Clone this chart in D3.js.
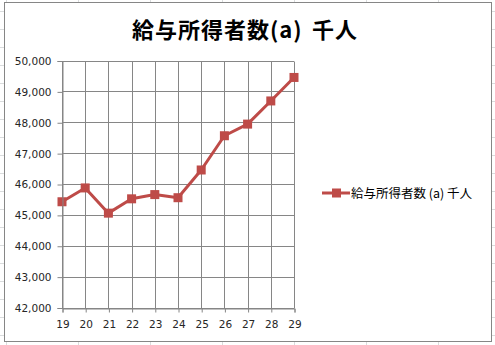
<!DOCTYPE html>
<html>
<head>
<meta charset="utf-8">
<script src="https://cdn.jsdelivr.net/npm/d3@7"></script>
<style>
  body { margin: 0; background: #fff; }
  svg { display: block; }
</style>
</head>
<body>
<div id="chart"></div>
<script>
// 給与所得者数 (a) 千人, 平成19-29年
var years = [19, 20, 21, 22, 23, 24, 25, 26, 27, 28, 29];
var workers = [45425, 45873, 45056, 45520, 45657, 45556, 46454, 47563, 47940, 48690, 49451];
var yTicks = [42000, 43000, 44000, 45000, 46000, 47000, 48000, 49000, 50000];
var titleParts = ["給与所得者数(a)", "千人"];
var seriesName = "給与所得者数 (a) 千人";

var width = 495, height = 345;
var lineColor = "#BE4B48",
    gridColor = "#868686",
    sheetColor = "#DADCDD",
    numFont = "'DejaVu Sans', Verdana, sans-serif",
    cjkFont = "'Noto Sans CJK JP', sans-serif";

var svg = d3.select("#chart").append("svg")
    .attr("width", width)
    .attr("height", height);

// spreadsheet cells behind the chart object
var rows = d3.range(-7, height, 18),
    cols = d3.range(6, width, 72);
svg.selectAll("line.row").data(rows).enter().append("line")
    .attr("x1", 0).attr("x2", width)
    .attr("y1", function(d) { return d + 0.5; })
    .attr("y2", function(d) { return d + 0.5; })
    .style("stroke", sheetColor);
svg.selectAll("line.col").data(cols).enter().append("line")
    .attr("y1", 0).attr("y2", height)
    .attr("x1", function(d) { return d + 0.5; })
    .attr("x2", function(d) { return d + 0.5; })
    .style("stroke", sheetColor);

// chart object
svg.append("rect")
    .attr("x", 4.5).attr("y", 2.5)
    .attr("width", 487).attr("height", 339)
    .style("fill", "#fff")
    .style("stroke", "#868686");

var title = svg.append("text")
    .attr("y", 38)
    .style("font-family", cjkFont)
    .style("font-weight", "bold")
    .style("font-size", "22px")
    .style("letter-spacing", "1px")
    .style("fill", "#000");
title.append("tspan").attr("x", 132).text(titleParts[0]);
title.append("tspan").attr("x", 312).text(titleParts[1]);

var X = d3.scaleLinear().domain([19, 29]).range([62, 294]),
    Y = d3.scaleLinear().domain([42000, 50000]).range([307.5, 60.5]);

var plot = svg.append("g");

// gridlines
plot.selectAll("line.hgrid").data(yTicks).enter().append("line")
    .attr("x1", X(19)).attr("x2", X(29))
    .attr("y1", function(d) { return Math.round(Y(d)) + 0.5; })
    .attr("y2", function(d) { return Math.round(Y(d)) + 0.5; })
    .style("stroke", gridColor);
plot.selectAll("line.vgrid").data(years).enter().append("line")
    .attr("y1", Math.round(Y(50000)) + 0.5).attr("y2", Math.round(Y(42000)) + 0.5)
    .attr("x1", function(d) { return Math.round(X(d)) + 0.5; })
    .attr("x2", function(d) { return Math.round(X(d)) + 0.5; })
    .style("stroke", gridColor);

// axes
var yAxis = d3.axisLeft(Y)
    .tickValues(yTicks)
    .tickFormat(d3.format(","))
    .tickSize(5)
    .tickPadding(6);
var xAxis = d3.axisBottom(X)
    .tickValues(years)
    .tickFormat(d3.format("d"))
    .tickSize(4)
    .tickPadding(8);

var gy = svg.append("g")
    .attr("transform", "translate(" + (Math.round(X(19)) + 0.5) + ",0.5)")
    .call(yAxis);
var gx = svg.append("g")
    .attr("transform", "translate(0.5," + (Math.round(Y(42000)) + 0.5) + ")")
    .call(xAxis);
[gx, gy].forEach(function(g) {
    g.select(".domain").style("stroke", gridColor);
    g.selectAll(".tick line").style("stroke", gridColor);
    g.selectAll("text")
        .style("font-family", numFont)
        .style("font-size", "10.5px")
        .style("fill", "#262626");
});

// series
var line = d3.line()
    .x(function(d, i) { return X(years[i]); })
    .y(function(d) { return Y(d); });
plot.append("path")
    .datum(workers)
    .attr("d", line)
    .style("fill", "none")
    .style("stroke", lineColor)
    .style("stroke-width", 3)
    .style("stroke-linejoin", "round");
plot.selectAll("rect.pt").data(workers).enter().append("rect")
    .attr("x", function(d, i) { return X(years[i]) - 4.5; })
    .attr("y", function(d) { return Y(d) - 4.5; })
    .attr("width", 9).attr("height", 9)
    .style("fill", lineColor);

// legend
var legend = svg.append("g").attr("transform", "translate(322,193)");
legend.append("line")
    .attr("x1", 0).attr("x2", 28)
    .style("stroke", lineColor)
    .style("stroke-width", 3);
legend.append("rect")
    .attr("x", 10).attr("y", -4.5)
    .attr("width", 9).attr("height", 9)
    .style("fill", lineColor);
legend.append("text")
    .attr("x", 29).attr("y", 4.5)
    .style("font-family", cjkFont)
    .style("font-size", "12.5px")
    .style("fill", "#000")
    .text(seriesName);
</script>
</body>
</html>
